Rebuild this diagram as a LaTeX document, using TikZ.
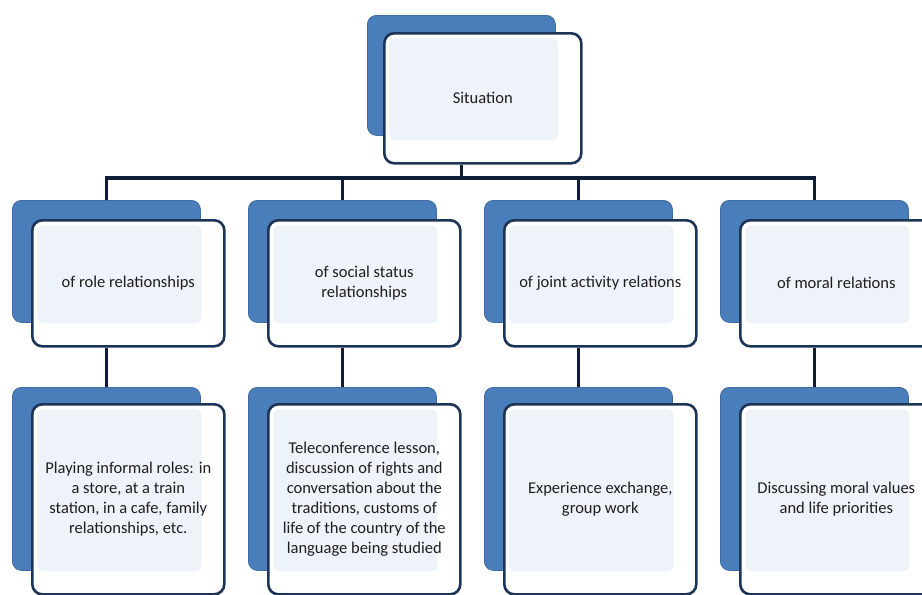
\documentclass[tikz,border=0pt]{standalone}
\usepackage{fontspec}
\setmainfont{Carlito}
\usetikzlibrary{calc}
\definecolor{backblue}{HTML}{4A7EBB}
\definecolor{frameblue}{HTML}{1C3557}
\definecolor{innerfill}{HTML}{EEF2F9}
\definecolor{linecol}{HTML}{0E1E36}
\definecolor{txt}{HTML}{1E1E1E}
\begin{document}
\begin{tikzpicture}[x=1pt,y=-1pt,
  backcard/.style={rectangle, rounded corners=9pt, fill=backblue,
    draw=backblue!85!black, line width=0.8pt, anchor=north west, inner sep=0pt},
  frontcard/.style={rectangle, rounded corners=10pt, fill=white, draw=frameblue,
    line width=2.6pt, anchor=north west, inner sep=0pt, align=center,
    font=\fontsize{16.5}{20}\selectfont, text=txt,
    path picture={\fill[innerfill, rounded corners=6pt]
      ($(path picture bounding box.north west)+(5pt,-5pt)$) rectangle
      ($(path picture bounding box.south east)+(-23pt,23pt)$);}},
  link/.style={draw=linecol, line width=3.6pt, line join=miter}
]
\useasboundingbox[fill=white] (0,0) rectangle (922,595);

% root card
\node[backcard, minimum width=188pt, minimum height=120pt] (b0) at (367,15) {};
\node[frontcard, minimum width=197pt, minimum height=130pt] (f0) at (383,32) {Situation};

% second level: kinds of situation
\node[backcard, minimum width=188pt, minimum height=122pt] (b1) at (12,200) {};
\node[frontcard, minimum width=192pt, minimum height=126pt] (f1) at (31,219) {of role relationships};
\node[backcard, minimum width=188pt, minimum height=122pt] (b2) at (248,200) {};
\node[frontcard, minimum width=192pt, minimum height=126pt] (f2) at (267,219) {of social status\\relationships};
\node[backcard, minimum width=188pt, minimum height=122pt] (b3) at (484,200) {};
\node[frontcard, minimum width=192pt, minimum height=126pt] (f3) at (503,219) {of joint activity relations};
\node[backcard, minimum width=188pt, minimum height=122pt] (b4) at (720,200) {};
\node[frontcard, minimum width=192pt, minimum height=126pt] (f4) at (739,219) {of moral relations};

% third level: activities
\node[backcard, minimum width=188pt, minimum height=183pt] (c1) at (12,387) {};
\node[frontcard, minimum width=192pt, minimum height=190pt] (g1) at (31,403)
  {Playing informal roles: in\\a store, at a train\\station, in a cafe, family\\relationships, etc.};
\node[backcard, minimum width=188pt, minimum height=183pt] (c2) at (248,387) {};
\node[frontcard, minimum width=192pt, minimum height=190pt] (g2) at (267,403)
  {Teleconference lesson,\\discussion of rights and\\conversation about the\\traditions, customs of\\life of the country of the\\language being studied};
\node[backcard, minimum width=188pt, minimum height=183pt] (c3) at (484,387) {};
\node[frontcard, minimum width=192pt, minimum height=190pt] (g3) at (503,403)
  {Experience exchange,\\group work};
\node[backcard, minimum width=188pt, minimum height=183pt] (c4) at (720,387) {};
\node[frontcard, minimum width=192pt, minimum height=190pt] (g4) at (739,403)
  {Discussing moral values\\and life priorities};

% connectors
\coordinate (bar) at (0,178);
\draw[link] (b0.south |- f0.south) -- (b0.south |- bar);
\draw[link] (b1.north) -- (b1.north |- bar) -- (b4.north |- bar) -- (b4.north);
\draw[link] (b2.north |- bar) -- (b2.north);
\draw[link] (b3.north |- bar) -- (b3.north);
\foreach \i in {1,...,4}{
  \draw[link] (b\i.south |- f\i.south) -- (c\i.north);
}
\end{tikzpicture}
\end{document}
